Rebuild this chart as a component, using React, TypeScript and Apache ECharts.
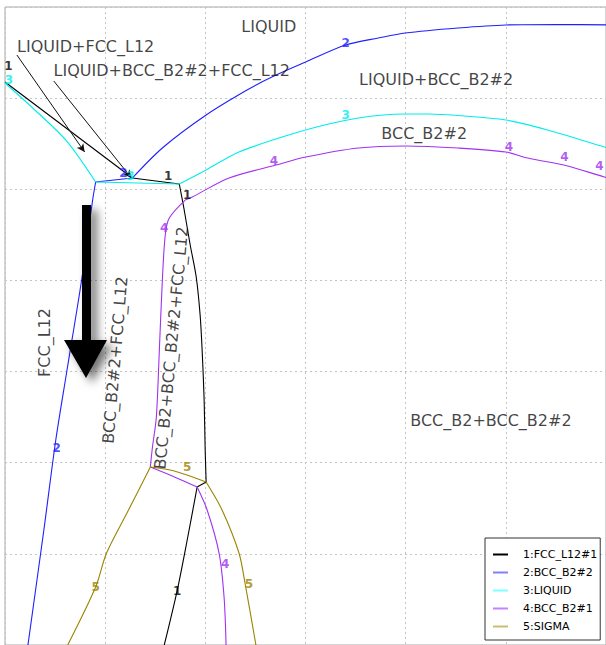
import React, { useEffect, useRef } from "react";
import * as echarts from "echarts";

const FONT = "DejaVu Sans, Verdana, sans-serif";

// axis scale (arbitrary units, 6 x 7 grid cells)
const xTicks = [0, 10, 20, 30, 40, 50, 60];
const yTicks = [0, 100, 200, 300, 400, 500, 600, 700];

const seriesNames = ["1:FCC_L12#1", "2:BCC_B2#2", "3:LIQUID", "4:BCC_B2#1", "5:SIGMA"];
const seriesColors = ["#000000", "#1f1fff", "#00ecec", "#a032f0", "#9a8400"];
const legendColors = ["#000000", "#8080ff", "#80ffff", "#c880ff", "#c9bd72"];

// 1: FCC_L12#1 (segments)
const curve1 = [
  [[0, 617.7], [12.72, 512.4], [17.4, 505.8]],
  [[17.4, 505.8], [17.89, 477.3], [18.49, 438.9], [19.09, 403.8], [19.48, 362.1],
   [19.68, 323.7], [19.88, 268.8], [19.98, 216.1], [20.08, 178.8]],
  [[20.08, 178.8], [19.18, 173.3]],
  [[19.18, 173.3], [18.19, 115.2], [17.2, 60.3], [15.9, 0]],
];
const curve1Smooth = [false, true, false, true];
// 2: BCC_B2#2
const curve2 = [
  [[2.29, 0], [3.88, 126.2], [5.07, 224.9], [6.16, 299.5], [7.65, 400.5], [8.75, 488.2], [9.05, 508.0]],
  [[9.05, 508.0], [12.72, 512.4]],
  [[12.72, 512.4], [15.71, 545.3], [20.08, 581.5], [24.16, 608.9], [26.64, 623.2],
   [30.02, 639.7], [34.0, 658.3], [37.28, 666.0], [39.96, 671.5], [45.23, 677.0],
   [50.0, 680.3], [55.17, 680.8], [60.5, 680.3]],
];
const curve2Smooth = [true, false, true];
// 3: LIQUID
const curve3 = [
  [[0, 616.6], [2.98, 587.0], [6.16, 552.9], [9.05, 508.0]],
  [[9.05, 508.0], [17.4, 505.8]],
  [[17.4, 505.8], [20.08, 521.2], [23.36, 540.9], [28.33, 559.6], [32.31, 571.6],
   [35.29, 578.2], [37.77, 581.5], [39.96, 582.6], [42.25, 582.6], [45.23, 580.9],
   [50.0, 576.0], [54.17, 565.0], [59.84, 546.4], [60.5, 544.2]],
];
const curve3Smooth = [true, false, true];
// 4: BCC_B2#1
const curve4 = [
  [[60.5, 512.2], [59.84, 513.5], [56.17, 525.5], [52.19, 534.3], [50.0, 540.9],
   [45.23, 545.3], [39.96, 547.5], [35.29, 545.3], [30.02, 535.4], [27.04, 526.6],
   [22.37, 512.4], [18.69, 491.5], [17.99, 488.2]],
  [[17.99, 488.2], [16.4, 468.5], [16.0, 449.8], [15.71, 400.5], [15.41, 323.7],
   [15.11, 250.1], [14.71, 216.1], [14.51, 195.3]],
  [[14.51, 195.3], [16.7, 185.4], [19.18, 173.3]],
  [[19.18, 173.3], [20.18, 148.1], [21.37, 100.9], [21.87, 52.7], [22.07, 0]],
];
const curve4Smooth = [true, true, true, true];
// 5: SIGMA
const curve5 = [
  [[6.26, 0], [9.05, 63.6], [10.14, 100.9], [12.33, 148.1], [14.51, 195.3]],
  [[14.51, 195.3], [16.9, 190.9], [20.08, 178.8]],
  [[20.08, 178.8], [21.67, 148.1], [23.36, 100.9], [23.96, 68.0], [25.05, 0]],
];
const curve5Smooth = [true, true, true];

const curves = [curve1, curve2, curve3, curve4, curve5];
const curveSmooth = [curve1Smooth, curve2Smooth, curve3Smooth, curve4Smooth, curve5Smooth];

// phase-region labels
const regionText = [
  "LIQUID", "LIQUID+FCC_L12", "LIQUID+BCC_B2#2+FCC_L12", "LIQUID+BCC_B2#2",
  "BCC_B2#2", "FCC_L12", "BCC_B2#2+FCC_L12", "BCC_B2+BCC_B2#2+FCC_L12", "BCC_B2+BCC_B2#2",
];
const regionX = [26.34, 8.05, 16.65, 43.04, 41.85, 3.93, 10.98, 16.6, 48.51];
const regionY = [678.1, 657.2, 629.8, 621.0, 560.7, 331.9, 312.7, 325.9, 245.8];
const regionRotate = [0, 0, 0, 0, 0, 90, 85.2, 84.6, 0];

// curve number labels
const numText = ["1", "1", "1", "1", "3", "3", "3", "2", "2", "2", "4", "4", "4", "4", "4", "4", "5", "5", "5"];
const numCurve = [0, 0, 0, 0, 2, 2, 2, 1, 1, 1, 3, 3, 3, 3, 3, 3, 4, 4, 4];
const numX = [0.35, 16.3, 18.19, 17.2, 0.4, 12.52, 34.0, 11.83, 34.0, 5.17, 26.84, 50.3, 55.86, 59.34, 15.9, 21.97, 18.19, 9.05, 24.35];
const numY = [635.3, 514.6, 493.7, 59.2, 619.9, 514.6, 581.5, 517.9, 660.5, 216.1, 531.0, 546.4, 535.4, 525.5, 457.5, 88.9, 195.3, 63.6, 66.9];

// pointer arrows (from label to region)
const pointerFrom = [[1.19, 647.3], [4.87, 618.8]];
const pointerTo = [[7.95, 540.9], [12.62, 512.4]];

export default function App() {
  const ref = useRef<HTMLDivElement>(null);

  useEffect(() => {
    if (!ref.current) return;
    const chart = echarts.init(ref.current, null, { renderer: "svg" });

    const lineSeries: any[] = [];
    curves.forEach((segs, i) => {
      segs.forEach((seg, j) => {
        lineSeries.push({
          type: "line",
          name: seriesNames[i],
          data: seg,
          showSymbol: false,
          symbol: "none",
          smooth: curveSmooth[i][j] ? 0.3 : false,
          lineStyle: { color: seriesColors[i], width: 1.1 },
          itemStyle: { color: seriesColors[i] },
          clip: true,
          silent: true,
          z: 3,
        });
      });
    });

    const option = {
      animation: false,
      backgroundColor: "#ffffff",
      textStyle: { fontFamily: FONT },
      grid: {
        left: 5,
        top: 7,
        width: 604,
        height: 638,
        show: true,
        borderColor: "#a8a8a8",
        borderWidth: 1,
        backgroundColor: "transparent",
      },
      xAxis: {
        type: "value",
        min: xTicks[0],
        max: xTicks[xTicks.length - 1],
        interval: xTicks[1] - xTicks[0],
        axisLabel: { show: false },
        axisTick: { show: false },
        axisLine: { show: false },
        splitLine: { show: true, lineStyle: { color: "#c4c4c4", type: [2, 3], width: 1 } },
      },
      yAxis: {
        type: "value",
        min: yTicks[0],
        max: yTicks[yTicks.length - 1],
        interval: yTicks[1] - yTicks[0],
        axisLabel: { show: false },
        axisTick: { show: false },
        axisLine: { show: false },
        splitLine: { show: true, lineStyle: { color: "#c4c4c4", type: [2, 3], width: 1 } },
      },
      legend: {
        orient: "vertical",
        left: 485,
        top: 538,
        padding: [10, 3, 7, 8],
        backgroundColor: "#ffffff",
        borderColor: "#333333",
        borderWidth: 1,
        borderRadius: 0,
        icon: "rect",
        itemWidth: 15,
        itemHeight: 2,
        itemGap: 5,
        selectedMode: false,
        textStyle: { fontFamily: FONT, fontSize: 11, color: "#000", padding: [0, 0, 0, 10], lineHeight: 13 },
        data: seriesNames.map((n, i) => ({ name: n, itemStyle: { color: legendColors[i] } })),
      },
      series: [
        ...lineSeries,
        {
          type: "scatter",
          name: "regions",
          symbolSize: 0,
          silent: true,
          z: 5,
          data: regionText.map((t, i) => ({
            value: [regionX[i], regionY[i]],
            label: {
              show: true,
              formatter: t,
              rotate: regionRotate[i],
              position: "inside",
              align: "center",
              verticalAlign: "middle",
              color: "#111",
              fontFamily: FONT,
              fontSize: 16,
            },
          })),
        },
        {
          type: "scatter",
          name: "numbers",
          symbolSize: 0,
          silent: true,
          z: 6,
          data: numText.map((t, i) => ({
            value: [numX[i], numY[i]],
            label: {
              show: true,
              formatter: t,
              position: "inside",
              align: "center",
              verticalAlign: "middle",
              color: seriesColors[numCurve[i]],
              fontFamily: FONT,
              fontSize: 12,
              fontWeight: "bold",
            },
          })),
        },
        {
          type: "line",
          name: "pointers",
          data: [],
          silent: true,
          z: 4,
          markLine: {
            silent: true,
            symbol: ["none", "arrow"],
            symbolSize: [6, 8],
            label: { show: false },
            lineStyle: { color: "#111", width: 1, type: "solid" },
            data: pointerFrom.map((p, i) => [
              { coord: p },
              { coord: pointerTo[i] },
            ]),
          },
        },
      ],
      graphic: [
        {
          type: "polygon",
          z: 10,
          shape: {
            points: [
              [82, 205], [91, 205], [91, 340], [107, 340], [86, 378], [64, 340], [82, 340],
            ],
          },
          style: {
            fill: "#000",
            shadowBlur: 10,
            shadowOffsetX: 6,
            shadowOffsetY: 5,
            shadowColor: "rgba(0,0,0,0.55)",
          },
        },
      ],
    };

    chart.setOption(option as any);
    return () => chart.dispose();
  }, []);

  return (
    <div
      ref={ref}
      style={{ position: "fixed", left: 0, top: 0, width: 606, height: 645, background: "#fff" }}
    />
  );
}
